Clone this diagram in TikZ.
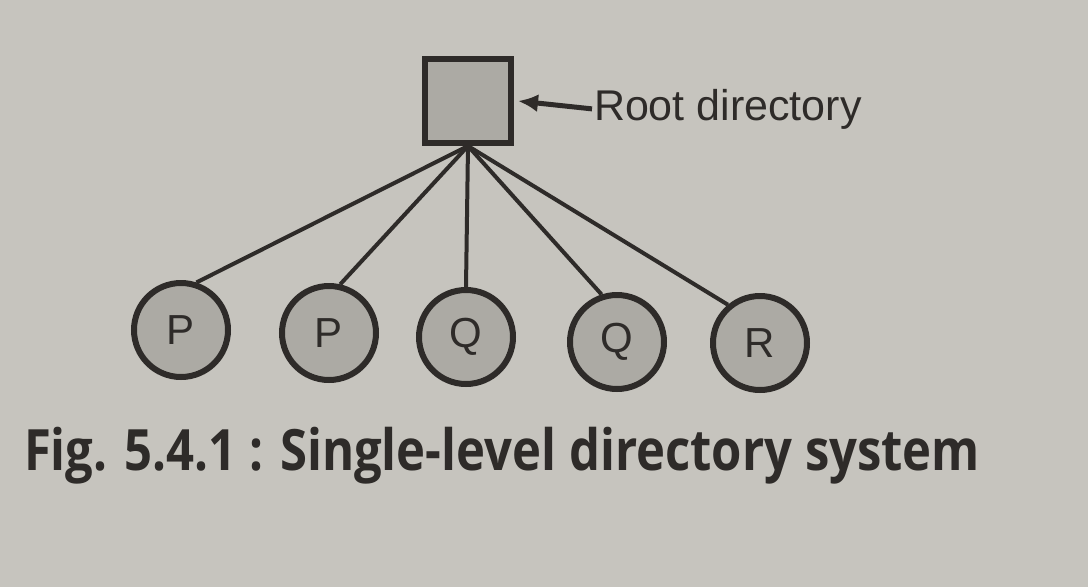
\documentclass[tikz,border=0pt]{standalone}
\usepackage{fontspec}
\setmainfont{Liberation Sans}
\newfontfamily\capfont{Open Sans}
\usetikzlibrary{positioning,arrows.meta}
\definecolor{paper}{RGB}{198,196,190}
\definecolor{ink}{RGB}{46,43,41}
\definecolor{dots}{RGB}{172,170,164}
\begin{document}
\begin{tikzpicture}[x=1pt, y=-1pt, line width=4pt, draw=ink,
    file/.style={circle,draw=ink,fill=dots,line width=6pt,minimum size=94pt,inner sep=0pt,text=ink,font=\fontsize{42}{42}\selectfont},
    dir/.style={rectangle,draw=ink,fill=dots,line width=6pt,minimum width=86pt,minimum height=84pt}]
    \fill[paper] (0,0) rectangle (1088,587);
    \useasboundingbox (0,0) rectangle (1088,587);

    % Root directory
    \node[dir] (root) at (468,101) {};
    \node[anchor=base west,inner sep=0pt,text=ink,font=\fontsize{43}{43}\selectfont] (rootlbl) at (592,120) {Root directory};
    \draw[line width=5pt,-{Latex[length=20pt,width=18pt]}] (rootlbl.west) -- ([xshift=4pt]root.east);

    % Files
    \node[file] (p1) at (181,330) {P};
    \node[file] (p2) at (329,333) {P};
    \node[file] (q1) at (466,337) {Q};
    \node[file] (q2) at (617,342) {Q};
    \node[file] (r1) at (760,343) {R};

    % Links
    \draw (root.south) -- (p1.72);
    \draw (root.south) -- (p2.77);
    \draw (root.south) -- (q1.north);
    \draw (root.south) -- (q2.108);
    \draw (root.south) -- (r1.130);

    % Caption
    \node[anchor=base west,inner sep=0pt,text=ink] (cap) at (22,470) {\scalebox{0.86}[1]{\capfont\bfseries\fontsize{57}{57}\selectfont Fig. 5.4.1 : Single-level directory system}};
\end{tikzpicture}
\end{document}
